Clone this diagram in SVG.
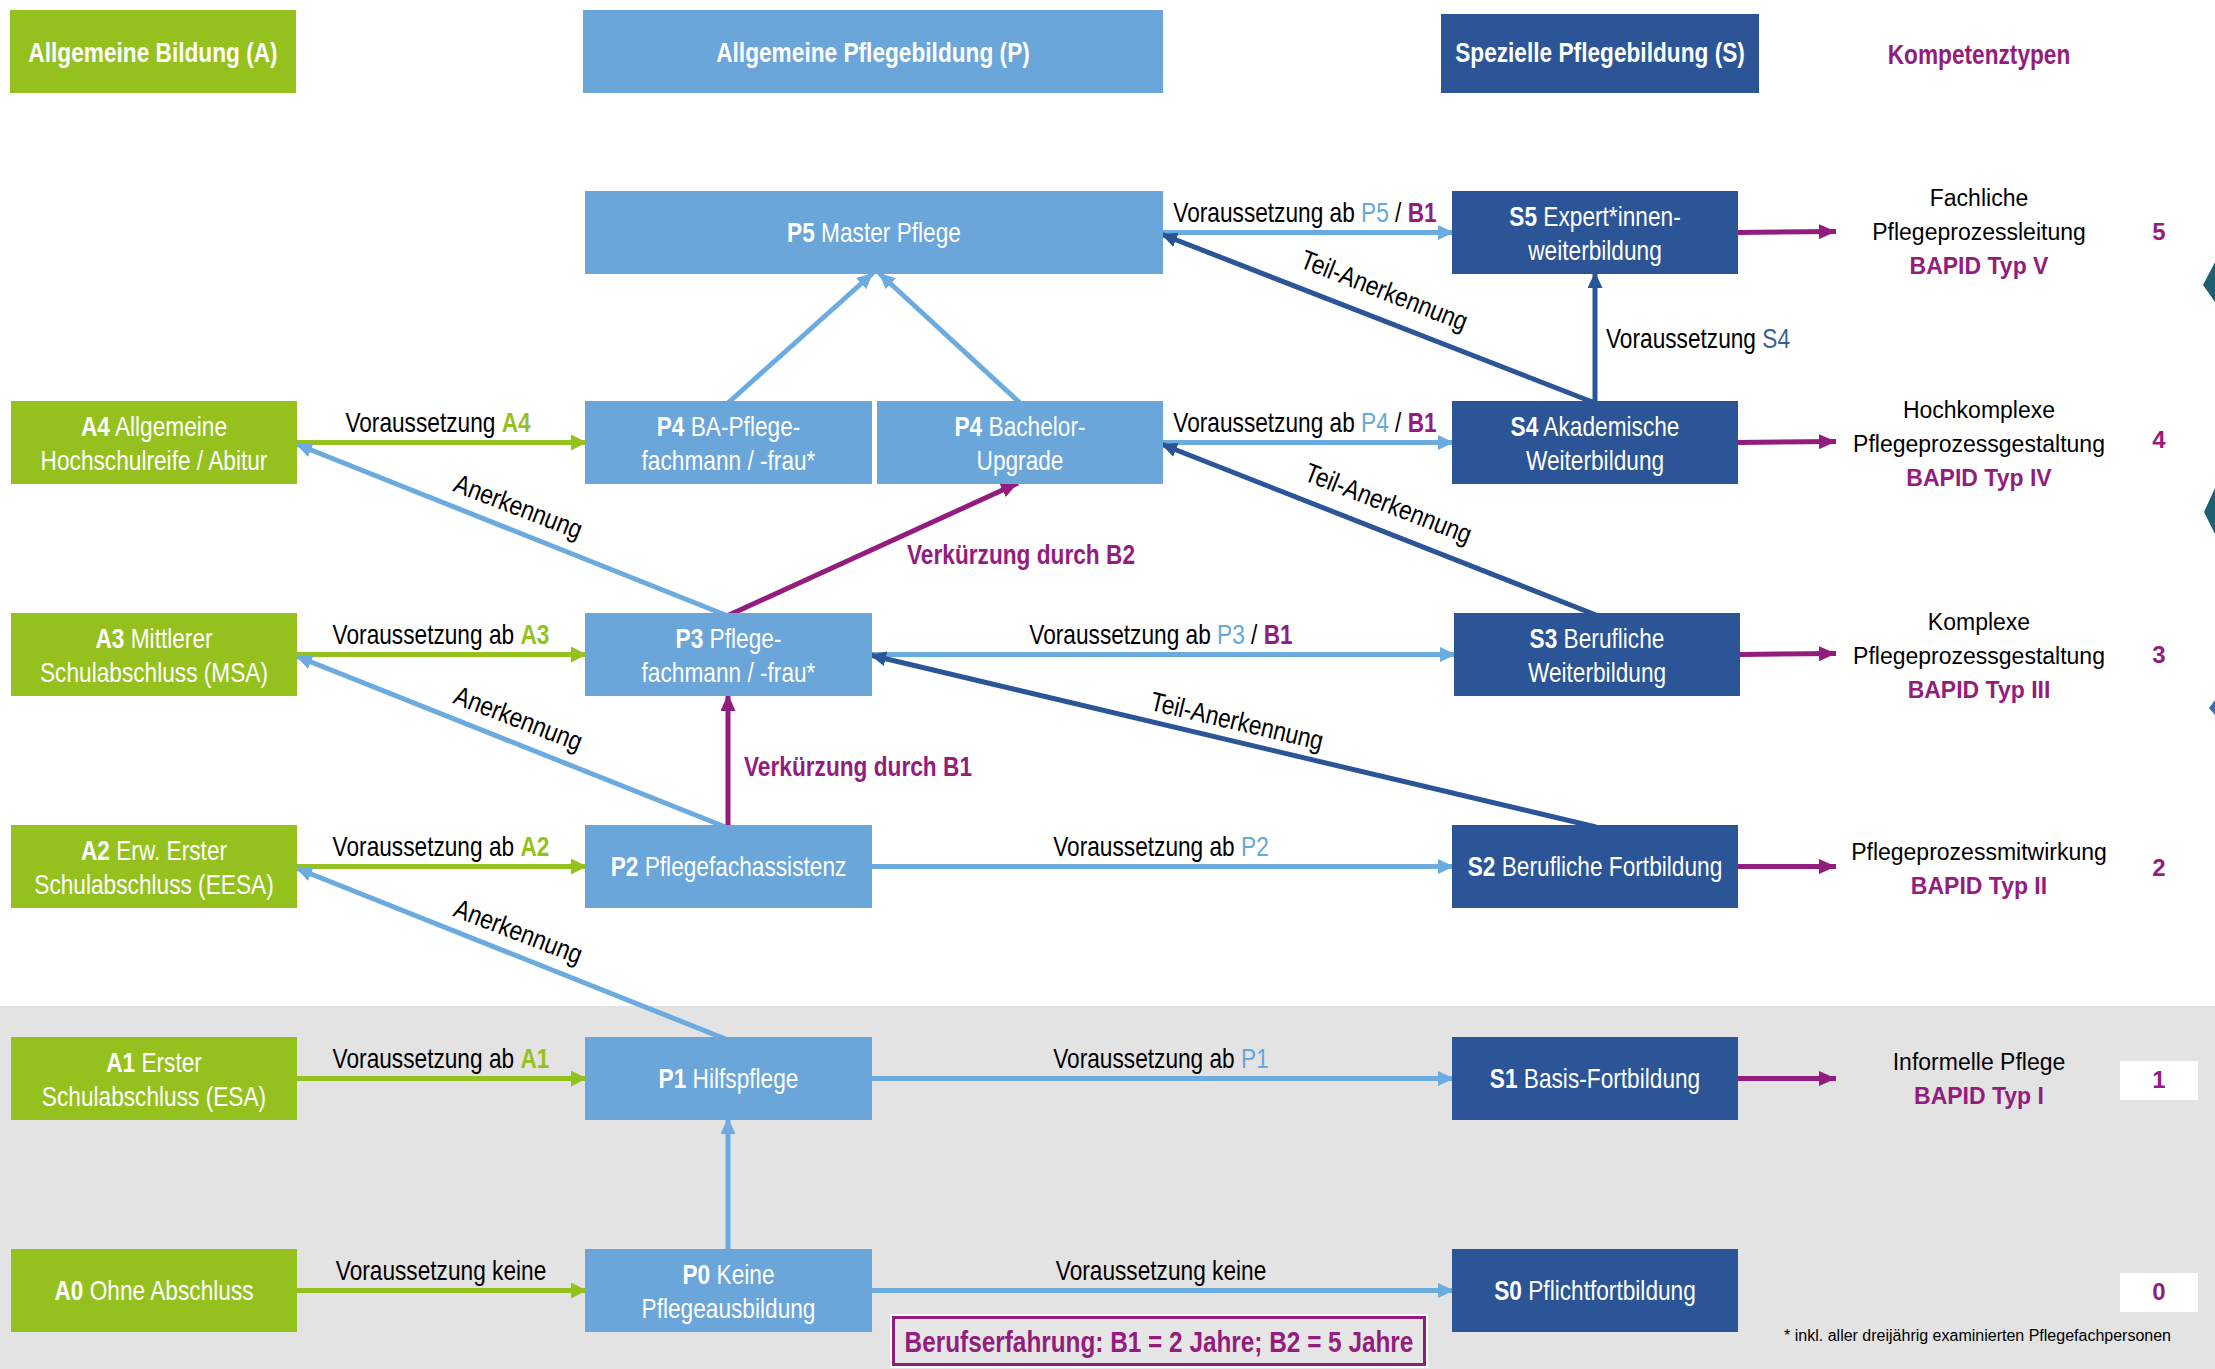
<svg xmlns="http://www.w3.org/2000/svg" width="2215" height="1369" viewBox="0 0 2215 1369">
<defs>
<style>
.n{font-family:"Liberation Sans Narrow","Liberation Sans",Arial,sans-serif;font-size:27px;text-anchor:middle}
.nt{fill:#ffffff}
.hd{fill:#ffffff;font-weight:bold}
.lbl{fill:#000000}
.kt{font-family:"Liberation Sans",Arial,sans-serif;font-size:23px;fill:#000000;text-anchor:middle}
.kb{font-family:"Liberation Sans",Arial,sans-serif;font-size:23px;font-weight:bold;fill:#931c7f;text-anchor:middle}
.num{font-family:"Liberation Sans",Arial,sans-serif;font-size:24px;font-weight:bold;fill:#931c7f;text-anchor:middle}
.b{font-weight:bold}
.cg{fill:#95c11f}
.cl{fill:#64a8dc}
.cm{fill:#931c7f}
.cd{fill:#3a5f98}
.ga{fill:#95c11f}
.la{fill:#6aa6da}
.da{fill:#2b5597}
.grn{stroke:#95c11f;stroke-width:5;fill:none;marker-end:url(#mG)}
.lb{stroke:#6babdf;stroke-width:5;fill:none;marker-end:url(#mL)}
.db{stroke:#2b5597;stroke-width:5;fill:none;marker-end:url(#mD)}
.mg{stroke:#931c7f;stroke-width:5;fill:none;marker-end:url(#mM)}
</style>
<marker id="mG" markerUnits="userSpaceOnUse" markerWidth="16" markerHeight="16" refX="16" refY="8" orient="auto"><path d="M0,0 L16,8 L0,16 z" fill="#95c11f"/></marker>
<marker id="mL" markerUnits="userSpaceOnUse" markerWidth="16" markerHeight="15" refX="16" refY="7.5" orient="auto"><path d="M0,0 L16,7.5 L0,15 z" fill="#6babdf"/></marker>
<marker id="mD" markerUnits="userSpaceOnUse" markerWidth="16" markerHeight="15" refX="16" refY="7.5" orient="auto"><path d="M0,0 L16,7.5 L0,15 z" fill="#2b5597"/></marker>
<marker id="mM" markerUnits="userSpaceOnUse" markerWidth="17" markerHeight="15" refX="17" refY="7.5" orient="auto"><path d="M0,0 L17,7.5 L0,15 z" fill="#931c7f"/></marker>
</defs>
<rect x="0" y="0" width="2215" height="1369" fill="#ffffff"/>
<rect x="0" y="1006" width="2215" height="363" fill="#e3e3e3"/>

<g id="headers">
<g id="hA"><rect x="10" y="10" width="286" height="83" class="ga"/><text class="n hd" transform="translate(153,61.5) scale(0.84,1)">Allgemeine Bildung (A)</text></g>
<g id="hP"><rect x="583" y="10" width="580" height="83" class="la"/><text class="n hd" transform="translate(873,61.5) scale(0.84,1)">Allgemeine Pflegebildung (P)</text></g>
<g id="hS"><rect x="1441" y="14" width="318" height="79" class="da"/><text class="n hd" transform="translate(1600,62) scale(0.84,1)">Spezielle Pflegebildung (S)</text></g>
<g id="hK"><text class="n b" transform="translate(1979,64) scale(0.84,1)" fill="#931c7f">Kompetenztypen</text></g>
</g>

<g id="connectors">
<path class="grn" d="M297,442.5 L587,442.5"/>
<path class="grn" d="M297,654.5 L587,654.5"/>
<path class="grn" d="M297,866.5 L587,866.5"/>
<path class="grn" d="M297,1078.5 L587,1078.5"/>
<path class="grn" d="M297,1290.5 L587,1290.5"/>
<path class="lb" d="M728,616 L296,444"/>
<path class="lb" d="M728,828 L296,656"/>
<path class="lb" d="M728,1040 L296,868"/>
<path class="lb" d="M1163,232.5 L1454,232.5"/>
<path class="lb" d="M1163,442.5 L1454,442.5"/>
<path class="lb" d="M872,654.5 L1456,654.5"/>
<path class="lb" d="M872,866.5 L1454,866.5"/>
<path class="lb" d="M872,1078.5 L1454,1078.5"/>
<path class="lb" d="M872,1290.5 L1454,1290.5"/>
<path class="lb" d="M728,403 L873,273"/>
<path class="lb" d="M1020,403 L879,273"/>
<path class="lb" d="M728,1251 L728,1118"/>
<path class="db" d="M1595,403 L1161,234"/>
<path class="db" d="M1596,615 L1161,444"/>
<path class="db" d="M1596,827 L870,655"/>
<path class="db" d="M1595,403 L1595,272"/>
<path class="mg" d="M729,615 L1018,483"/>
<path class="mg" d="M728,827 L728,694"/>
<path class="mg" d="M1738,232.5 L1836,231.5"/>
<path class="mg" d="M1738,442.5 L1836,441.5"/>
<path class="mg" d="M1740,654.5 L1836,653.5"/>
<path class="mg" d="M1738,866.5 L1836,866.5"/>
<path class="mg" d="M1738,1078.5 L1836,1078.5"/>
</g>

<g id="connector-labels">
<text class="n lbl" transform="translate(438,431.5) scale(0.84,1)">Voraussetzung <tspan class="cg b">A4</tspan></text>
<text class="n lbl" transform="translate(441,643.5) scale(0.84,1)">Voraussetzung ab <tspan class="cg b">A3</tspan></text>
<text class="n lbl" transform="translate(441,855.5) scale(0.84,1)">Voraussetzung ab <tspan class="cg b">A2</tspan></text>
<text class="n lbl" transform="translate(441,1067.5) scale(0.84,1)">Voraussetzung ab <tspan class="cg b">A1</tspan></text>
<text class="n lbl" transform="translate(441,1279.5) scale(0.84,1)">Voraussetzung keine</text>
<text class="n lbl" transform="translate(1305,221.5) scale(0.84,1)">Voraussetzung ab <tspan class="cl">P5</tspan> / <tspan class="cm b">B1</tspan></text>
<text class="n lbl" transform="translate(1305,431.5) scale(0.84,1)">Voraussetzung ab <tspan class="cl">P4</tspan> / <tspan class="cm b">B1</tspan></text>
<text class="n lbl" transform="translate(1161,643.5) scale(0.84,1)">Voraussetzung ab <tspan class="cl">P3</tspan> / <tspan class="cm b">B1</tspan></text>
<text class="n lbl" transform="translate(1161,855.5) scale(0.84,1)">Voraussetzung ab <tspan class="cl">P2</tspan></text>
<text class="n lbl" transform="translate(1161,1067.5) scale(0.84,1)">Voraussetzung ab <tspan class="cl">P1</tspan></text>
<text class="n lbl" transform="translate(1161,1279.5) scale(0.84,1)">Voraussetzung keine</text>
<text class="n lbl" transform="translate(1606,347.5) scale(0.84,1)" style="text-anchor:start">Voraussetzung <tspan class="cd">S4</tspan></text>
<text class="n lbl" transform="translate(515,515) rotate(21.1) scale(0.84,1)">Anerkennung</text>
<text class="n lbl" transform="translate(515,727) rotate(21.1) scale(0.84,1)">Anerkennung</text>
<text class="n lbl" transform="translate(515,940) rotate(21.1) scale(0.84,1)">Anerkennung</text>
<text class="n lbl" transform="translate(1381,299) rotate(21.4) scale(0.84,1)">Teil-Anerkennung</text>
<text class="n lbl" transform="translate(1385,512) rotate(21.4) scale(0.84,1)">Teil-Anerkennung</text>
<text class="n lbl" transform="translate(1235,730) rotate(13.2) scale(0.84,1)">Teil-Anerkennung</text>
<text class="n b" transform="translate(1021,563.5) scale(0.84,1)" fill="#931c7f">Verkürzung durch B2</text>
<text class="n b" transform="translate(744,775.5) scale(0.84,1)" fill="#931c7f" style="text-anchor:start">Verkürzung durch B1</text>
</g>

<g id="A4"><rect x="11" y="401" width="286" height="83" class="ga"/><text class="n nt" transform="translate(154,436) scale(0.84,1)"><tspan class="b">A4</tspan> Allgemeine</text><text class="n nt" transform="translate(154,470) scale(0.84,1)">Hochschulreife / Abitur</text></g>
<g id="A3"><rect x="11" y="613" width="286" height="83" class="ga"/><text class="n nt" transform="translate(154,648) scale(0.84,1)"><tspan class="b">A3</tspan> Mittlerer</text><text class="n nt" transform="translate(154,682) scale(0.84,1)">Schulabschluss (MSA)</text></g>
<g id="A2"><rect x="11" y="825" width="286" height="83" class="ga"/><text class="n nt" transform="translate(154,860) scale(0.84,1)"><tspan class="b">A2</tspan> Erw. Erster</text><text class="n nt" transform="translate(154,894) scale(0.84,1)">Schulabschluss (EESA)</text></g>
<g id="A1"><rect x="11" y="1037" width="286" height="83" class="ga"/><text class="n nt" transform="translate(154,1072) scale(0.84,1)"><tspan class="b">A1</tspan> Erster</text><text class="n nt" transform="translate(154,1106) scale(0.84,1)">Schulabschluss (ESA)</text></g>
<g id="A0"><rect x="11" y="1249" width="286" height="83" class="ga"/><text class="n nt" transform="translate(154,1300) scale(0.84,1)"><tspan class="b">A0</tspan> Ohne Abschluss</text></g>

<g id="P5"><rect x="585" y="191" width="578" height="83" class="la"/><text class="n nt" transform="translate(874,242) scale(0.84,1)"><tspan class="b">P5</tspan> Master Pflege</text></g>
<g id="P4a"><rect x="585" y="401" width="287" height="83" class="la"/><text class="n nt" transform="translate(728.5,436) scale(0.84,1)"><tspan class="b">P4</tspan> BA-Pflege-</text><text class="n nt" transform="translate(728.5,470) scale(0.84,1)">fachmann / -frau*</text></g>
<g id="P4b"><rect x="877" y="401" width="286" height="83" class="la"/><text class="n nt" transform="translate(1020,436) scale(0.84,1)"><tspan class="b">P4</tspan> Bachelor-</text><text class="n nt" transform="translate(1020,470) scale(0.84,1)">Upgrade</text></g>
<g id="P3"><rect x="585" y="613" width="287" height="83" class="la"/><text class="n nt" transform="translate(728.5,648) scale(0.84,1)"><tspan class="b">P3</tspan> Pflege-</text><text class="n nt" transform="translate(728.5,682) scale(0.84,1)">fachmann / -frau*</text></g>
<g id="P2"><rect x="585" y="825" width="287" height="83" class="la"/><text class="n nt" transform="translate(728.5,876) scale(0.84,1)"><tspan class="b">P2</tspan> Pflegefachassistenz</text></g>
<g id="P1"><rect x="585" y="1037" width="287" height="83" class="la"/><text class="n nt" transform="translate(728.5,1088) scale(0.84,1)"><tspan class="b">P1</tspan> Hilfspflege</text></g>
<g id="P0"><rect x="585" y="1249" width="287" height="83" class="la"/><text class="n nt" transform="translate(728.5,1284) scale(0.84,1)"><tspan class="b">P0</tspan> Keine</text><text class="n nt" transform="translate(728.5,1318) scale(0.84,1)">Pflegeausbildung</text></g>

<g id="S5"><rect x="1452" y="191" width="286" height="83" class="da"/><text class="n nt" transform="translate(1595,226) scale(0.84,1)"><tspan class="b">S5</tspan> Expert*innen-</text><text class="n nt" transform="translate(1595,260) scale(0.84,1)">weiterbildung</text></g>
<g id="S4"><rect x="1452" y="401" width="286" height="83" class="da"/><text class="n nt" transform="translate(1595,436) scale(0.84,1)"><tspan class="b">S4</tspan> Akademische</text><text class="n nt" transform="translate(1595,470) scale(0.84,1)">Weiterbildung</text></g>
<g id="S3"><rect x="1454" y="613" width="286" height="83" class="da"/><text class="n nt" transform="translate(1597,648) scale(0.84,1)"><tspan class="b">S3</tspan> Berufliche</text><text class="n nt" transform="translate(1597,682) scale(0.84,1)">Weiterbildung</text></g>
<g id="S2"><rect x="1452" y="825" width="286" height="83" class="da"/><text class="n nt" transform="translate(1595,876) scale(0.84,1)"><tspan class="b">S2</tspan> Berufliche Fortbildung</text></g>
<g id="S1"><rect x="1452" y="1037" width="286" height="83" class="da"/><text class="n nt" transform="translate(1595,1088) scale(0.84,1)"><tspan class="b">S1</tspan> Basis-Fortbildung</text></g>
<g id="S0"><rect x="1452" y="1249" width="286" height="83" class="da"/><text class="n nt" transform="translate(1595,1300) scale(0.84,1)"><tspan class="b">S0</tspan> Pflichtfortbildung</text></g>

<g id="K5"><text class="kt" x="1979" y="206">Fachliche</text><text class="kt" x="1979" y="240">Pflegeprozessleitung</text><text class="kb" x="1979" y="274">BAPID Typ V</text><text class="num" x="2159" y="240">5</text></g>
<g id="K4"><text class="kt" x="1979" y="418">Hochkomplexe</text><text class="kt" x="1979" y="452">Pflegeprozessgestaltung</text><text class="kb" x="1979" y="486">BAPID Typ IV</text><text class="num" x="2159" y="448">4</text></g>
<g id="K3"><text class="kt" x="1979" y="630">Komplexe</text><text class="kt" x="1979" y="664">Pflegeprozessgestaltung</text><text class="kb" x="1979" y="698">BAPID Typ III</text><text class="num" x="2159" y="663">3</text></g>
<g id="K2"><text class="kt" x="1979" y="860">Pflegeprozessmitwirkung</text><text class="kb" x="1979" y="894">BAPID Typ II</text><text class="num" x="2159" y="876">2</text></g>
<g id="K1"><text class="kt" x="1979" y="1070">Informelle Pflege</text><text class="kb" x="1979" y="1104">BAPID Typ I</text><rect x="2120" y="1061" width="78" height="39" fill="#ffffff"/><text class="num" x="2159" y="1088">1</text></g>
<g id="K0"><rect x="2120" y="1273" width="78" height="39" fill="#ffffff"/><text class="num" x="2159" y="1300">0</text></g>

<g id="legend">
<rect x="891" y="1315" width="536" height="52" fill="none" stroke="#ffffff" stroke-width="2"/>
<rect x="893.5" y="1317.5" width="531" height="47" fill="#e6e6e6" stroke="#931c7f" stroke-width="3"/>
<text class="n b" transform="translate(1159,1352) scale(0.84,1)" style="font-size:29px" fill="#931c7f">Berufserfahrung: B1 = 2 Jahre; B2 = 5 Jahre</text>
<text x="2171" y="1341" font-family="'Liberation Sans',Arial,sans-serif" font-size="16" fill="#000000" text-anchor="end">* inkl. aller dreijährig examinierten Pflegefachpersonen</text>
</g>

<g id="edge-icons">
<polygon points="2215,262 2203,285 2215,302" fill="#1f5f73"/>
<polygon points="2215,488 2204,512 2215,534" fill="#1f5f73"/>
<polygon points="2215,700 2209,708 2215,715" fill="#3a6fa8"/>
</g>
</svg>
